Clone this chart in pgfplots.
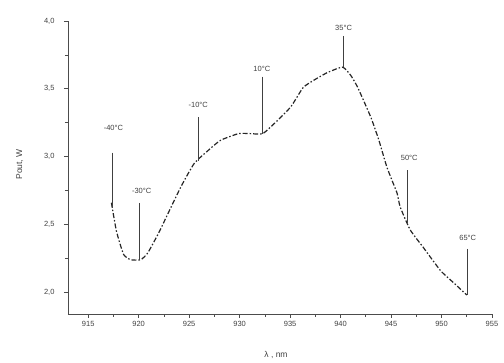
\documentclass[border=0pt]{standalone}
\usepackage{fontspec}
\setmainfont{Liberation Sans}
\usepackage{pgfplots}
\pgfplotsset{compat=1.18}
\begin{document}
\begin{tikzpicture}
\begin{axis}[
  at={(0,0)}, anchor=south west,
  scale only axis, width=424pt, height=293pt,
  xmin=913, xmax=955, ymin=1.84, ymax=4.0,
  axis x line=bottom, axis y line=left, axis line style={-, black!70, line width=0.8pt},
  xtick={915,920,...,955}, ytick={2.0,2.5,3.0,3.5,4.0},
  minor x tick num=1, minor y tick num=1,
  tick align=outside, major tick length=4pt, minor tick length=3pt,
  tick style={black!70, line width=0.7pt},
  ticklabel style={font=\fontsize{7.5}{9}\selectfont, text=black!75},
  /pgf/number format/assume math mode=true,
  xticklabel style={/pgf/number format/.cd, fixed, 1000 sep={}},
  yticklabel style={xshift=-6pt, /pgf/number format/.cd, fixed, fixed zerofill, precision=1, use comma},
  xlabel={λ , nm}, ylabel={Pout, W},
  label style={font=\fontsize{8.5}{10}\selectfont, text=black!75},
  xlabel style={xshift=-4pt, yshift=-18pt},
  ylabel style={yshift=14pt, xshift=3pt},
  clip=false,
]
\addplot[black!85, line width=1.2pt, dash pattern=on 5pt off 2pt on 1.5pt off 2pt, smooth, tension=0.3] coordinates {
(917.3,2.66) (917.8,2.45) (918.5,2.28) (919.2,2.24) (920.2,2.24) (920.9,2.29)
(922.0,2.44) (922.9,2.58) (924.2,2.78) (925.5,2.95) (926.8,3.04) (928.1,3.12)
(929.9,3.17) (931.0,3.17) (932.3,3.17) (933.8,3.27) (935.1,3.37) (936.3,3.51)
(937.5,3.57) (938.7,3.62) (940.2,3.66) (941.0,3.60) (941.7,3.51) (943.0,3.29)
(943.8,3.12) (944.6,2.92) (945.6,2.73) (945.9,2.63) (946.9,2.46) (948.2,2.33)
(949.9,2.16) (951.2,2.07) (952.5,1.98)
};
\addplot[black!75, line width=0.7pt] coordinates {(917.4,3.03) (917.4,2.62)};
\addplot[black!75, line width=0.7pt] coordinates {(920.1,2.66) (920.1,2.24)};
\addplot[black!75, line width=0.7pt] coordinates {(925.9,3.29) (925.9,2.97)};
\addplot[black!75, line width=0.7pt] coordinates {(932.3,3.59) (932.3,3.17)};
\addplot[black!75, line width=0.7pt] coordinates {(940.3,3.89) (940.3,3.66)};
\addplot[black!75, line width=0.7pt] coordinates {(946.6,2.90) (946.6,2.50)};
\addplot[black!75, line width=0.7pt] coordinates {(952.6,2.32) (952.6,1.98)};
\begin{scope}[every node/.style={font=\fontsize{7.5}{9}\selectfont, text=black!75}]
\node at (axis cs:917.5,3.21) {-40°C};
\node at (axis cs:920.3,2.75) {-30°C};
\node at (axis cs:925.9,3.38) {-10°C};
\node at (axis cs:932.2,3.65) {10°C};
\node at (axis cs:940.3,3.95) {35°C};
\node at (axis cs:946.8,2.99) {50°C};
\node at (axis cs:952.6,2.40) {65°C};
\end{scope}
\end{axis}
\useasboundingbox (-68pt,-48pt) rectangle (436pt,314pt);
\end{tikzpicture}
\end{document}
